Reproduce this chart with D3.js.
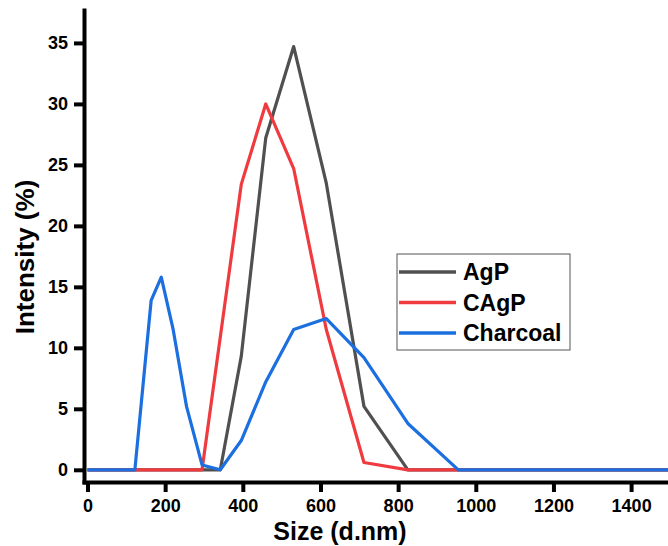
<!DOCTYPE html>
<html>
<head>
<meta charset="utf-8">
<script src="https://cdn.jsdelivr.net/npm/d3@7"></script>
<style>
  body { margin: 0; background: #fff; }
  svg { display: block; font-family: "Liberation Sans", Arial, sans-serif; }
</style>
</head>
<body>
<svg width="668" height="546"></svg>
<script>
// size bins (d.nm) and intensity (%)
const agpSize = [0, 342, 396, 459, 531, 615, 712, 825, 1500];
const agpInt  = [0, 0, 9.3, 27.2, 34.7, 23.5, 5.2, 0, 0];

const cagpSize = [0, 295, 396, 459, 531, 615, 712, 825, 1500];
const cagpInt  = [0, 0, 23.4, 30.0, 24.7, 11.5, 0.6, 0, 0];

const charSize = [0, 122, 164, 190, 220, 255, 295, 342, 396, 459, 531, 615, 712, 825, 955, 1500];
const charInt  = [0, 0, 13.9, 15.8, 11.6, 5.2, 0.4, 0, 2.4, 7.2, 11.5, 12.4, 9.2, 3.8, 0, 0];

const seriesNames = ['AgP', 'CAgP', 'Charcoal'];
const seriesColors = ['#505050', '#ef3b3f', '#1c6fdf'];
const xTicks = [0, 200, 400, 600, 800, 1000, 1200, 1400];
const yTicks = [0, 5, 10, 15, 20, 25, 30, 35];

const series = [
  agpSize.map((s, i) => ({x: s, y: agpInt[i]})),
  cagpSize.map((s, i) => ({x: s, y: cagpInt[i]})),
  charSize.map((s, i) => ({x: s, y: charInt[i]}))
];

const svg = d3.select('svg');
const plotL = 84, plotR = 668, plotT = 10, plotB = 482;

const x = d3.scaleLinear().domain([-9, 1495]).range([plotL, plotR]);
const y = d3.scaleLinear().domain([-1, 37.7]).range([plotB, plotT]);

// clip lines to plot area
svg.append('clipPath').attr('id', 'clip')
  .append('rect').attr('x', plotL).attr('y', plotT).attr('width', plotR - plotL).attr('height', plotB - plotT);

const line = d3.line().x(d => x(d.x)).y(d => y(d.y));

svg.append('g').attr('clip-path', 'url(#clip)')
  .selectAll('path')
  .data(series)
  .enter()
  .append('path')
  .attr('d', line)
  .attr('fill', 'none')
  .attr('stroke', (d, i) => seriesColors[i])
  .attr('stroke-width', 3.2)
  .attr('stroke-linejoin', 'round');

// axes
const xAxis = svg.append('g')
  .attr('transform', `translate(0,${plotB})`)
  .call(d3.axisBottom(x).tickValues(xTicks).tickFormat(d3.format('d'))
    .tickSize(10).tickSizeOuter(0).tickPadding(7));
const yAxis = svg.append('g')
  .attr('transform', `translate(${plotL},0)`)
  .call(d3.axisLeft(y).tickValues(yTicks).tickFormat(d3.format('d'))
    .tickSize(10).tickSizeOuter(0).tickPadding(6));

[xAxis, yAxis].forEach(a => {
  a.select('.domain').attr('stroke', '#000').attr('stroke-width', 4).attr('stroke-linecap', 'square');
  a.selectAll('.tick line').attr('stroke', '#000').attr('stroke-width', 4);
  a.selectAll('.tick text')
    .attr('fill', '#000')
    .style('font-size', '18px')
    .style('font-weight', 'bold')
    .style('font-family', '"Liberation Sans", Arial, sans-serif');
});

// axis titles
svg.append('text')
  .attr('x', 340).attr('y', 540)
  .attr('text-anchor', 'middle')
  .style('font-size', '25px').style('font-weight', 'bold')
  .text('Size (d.nm)');

svg.append('text')
  .attr('transform', 'translate(34,257) rotate(-90)')
  .attr('text-anchor', 'middle')
  .style('font-size', '26px').style('font-weight', 'bold')
  .text('Intensity (%)');

// legend
const legend = svg.append('g').attr('transform', 'translate(397,254)');
legend.append('rect')
  .attr('width', 173).attr('height', 96)
  .attr('fill', '#fff').attr('stroke', '#555').attr('stroke-width', 1);
const items = legend.selectAll('.item')
  .data(seriesNames)
  .enter()
  .append('g')
  .attr('transform', (d, i) => `translate(0,${18 + i * 30.5})`);
items.append('line')
  .attr('x1', 2).attr('x2', 59)
  .attr('stroke', (d, i) => seriesColors[i])
  .attr('stroke-width', 3.5);
items.append('text')
  .attr('x', 66).attr('y', 8)
  .style('font-size', '23px').style('font-weight', 'bold')
  .text(d => d);
</script>
</body>
</html>
